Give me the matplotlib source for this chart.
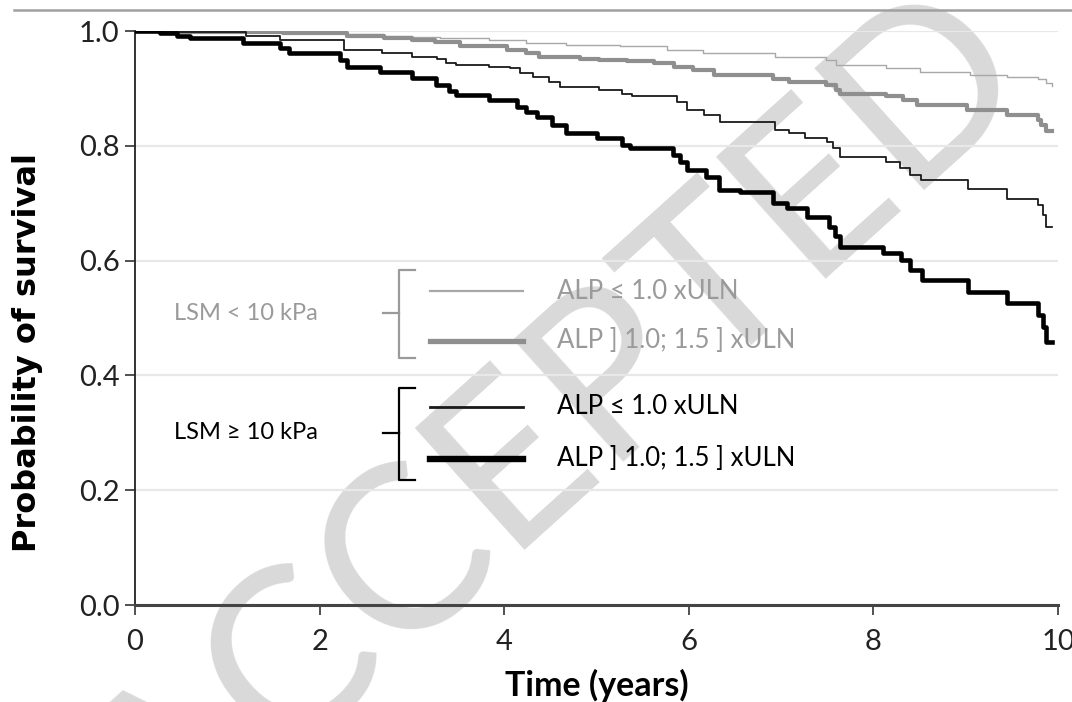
import matplotlib
matplotlib.use('Agg')
import matplotlib.pyplot as plt
from matplotlib.lines import Line2D

# survival curves (time in years, probability of survival)
t_lo_alp1 = [0, 0.8, 1.6, 2.3, 2.7, 3.0, 3.3, 3.84, 4.24, 4.67, 5.25, 5.76, 6.15, 6.93,
             7.49, 7.6, 8.14, 8.5, 9.05, 9.45, 9.78, 9.87, 9.93]
s_lo_alp1 = [1.0, 0.999, 0.997, 0.994, 0.992, 0.990, 0.988, 0.984, 0.979, 0.976, 0.973,
             0.967, 0.961, 0.954, 0.949, 0.941, 0.936, 0.929, 0.924, 0.919, 0.916, 0.909, 0.905]

t_lo_alp15 = [0, 0.5, 1.6, 2.3, 2.7, 3.0, 3.25, 3.52, 4.03, 4.24, 4.38, 4.82, 5.03, 5.33,
              5.62, 5.84, 6.05, 6.27, 6.91, 7.09, 7.49, 7.6, 7.64, 8.14, 8.32, 8.47, 9.01,
              9.45, 9.78, 9.82, 9.87, 9.93]
s_lo_alp15 = [1.0, 0.999, 0.996, 0.991, 0.988, 0.985, 0.981, 0.973, 0.967, 0.961, 0.955,
              0.952, 0.949, 0.947, 0.944, 0.938, 0.932, 0.924, 0.917, 0.912, 0.906, 0.897,
              0.891, 0.886, 0.880, 0.871, 0.862, 0.854, 0.845, 0.836, 0.825, 0.825]

t_hi_alp1 = [0, 0.3, 1.2, 1.57, 2.26, 2.68, 3.0, 3.27, 3.37, 3.48, 3.84, 4.06, 4.17, 4.31,
             4.49, 4.6, 5.03, 5.28, 5.39, 5.87, 5.98, 6.16, 6.34, 6.93, 7.09, 7.26, 7.5,
             7.56, 7.64, 8.14, 8.29, 8.4, 8.52, 9.03, 9.45, 9.78, 9.84, 9.87, 9.93]
s_hi_alp1 = [1.0, 0.998, 0.992, 0.984, 0.967, 0.961, 0.955, 0.952, 0.945, 0.941, 0.938,
             0.935, 0.927, 0.920, 0.912, 0.903, 0.897, 0.891, 0.886, 0.877, 0.863, 0.854,
             0.842, 0.828, 0.822, 0.813, 0.807, 0.796, 0.781, 0.772, 0.761, 0.749, 0.740,
             0.724, 0.708, 0.697, 0.679, 0.659, 0.659]

t_hi_alp15 = [0, 0.27, 0.45, 0.6, 1.17, 1.57, 1.67, 2.22, 2.3, 2.65, 3.0, 3.26, 3.4, 3.48,
              3.84, 4.14, 4.24, 4.35, 4.52, 4.67, 5.0, 5.28, 5.36, 5.83, 5.9, 5.98, 6.19,
              6.33, 6.55, 6.91, 7.06, 7.28, 7.52, 7.58, 7.64, 8.1, 8.3, 8.4, 8.53, 9.03,
              9.45, 9.78, 9.84, 9.87, 9.93]
s_hi_alp15 = [1.0, 0.997, 0.992, 0.987, 0.979, 0.970, 0.961, 0.950, 0.938, 0.929, 0.918,
              0.906, 0.895, 0.889, 0.880, 0.868, 0.859, 0.850, 0.836, 0.822, 0.813, 0.801,
              0.796, 0.784, 0.772, 0.758, 0.746, 0.723, 0.720, 0.700, 0.691, 0.676, 0.659,
              0.642, 0.624, 0.613, 0.601, 0.584, 0.566, 0.546, 0.526, 0.505, 0.485, 0.459,
              0.459]

x_ticks = [0, 2, 4, 6, 8, 10]
y_ticks = [0.0, 0.2, 0.4, 0.6, 0.8, 1.0]
alp_labels = ['ALP ≤ 1.0 xULN', 'ALP ] 1.0; 1.5 ] xULN']
group_labels = ['LSM < 10 kPa', 'LSM ≥ 10 kPa']

GRAY = '#9a9a9a'
LIGHT = '#a8a8a8'
FONT = 'Lato'

fig = plt.figure(figsize=(10.72, 7.02), dpi=100)
ax = fig.add_axes([135 / 1072, 1 - 605 / 702, 923 / 1072, 574 / 702])
ax.patch.set_alpha(0)

# watermark, behind the axes
fig.text(0.522, 0.387, 'ACCEPTED', rotation=42, fontsize=165, color='#d9d9d9',
         ha='center', va='center', family='Lato', zorder=-1)

# page rule at the top
fig.add_artist(Line2D([14 / 1072, 1], [1 - 10 / 702, 1 - 10 / 702],
                      transform=fig.transFigure, color='#a0a0a0', lw=1.8))

ax.step(t_lo_alp1, s_lo_alp1, where='post', color=LIGHT, lw=1.0, zorder=3)
ax.step(t_lo_alp15, s_lo_alp15, where='post', color='#8f8f8f', lw=3.0, zorder=3)
ax.step(t_hi_alp1, s_hi_alp1, where='post', color='#1a1a1a', lw=1.3, zorder=4)
ax.step(t_hi_alp15, s_hi_alp15, where='post', color='black', lw=3.3, zorder=4)

ax.set_xlim(0, 10)
ax.set_ylim(0, 1.0)
ax.set_xticks(x_ticks)
ax.set_yticks(y_ticks)
ax.set_yticklabels(['%.1f' % v for v in y_ticks])
ax.grid(axis='y', color='#e8e8e8', lw=1.6, zorder=0)
ax.set_axisbelow(True)
for side in ['top', 'right']:
    ax.spines[side].set_visible(False)
ax.spines['left'].set_color('#222222')
ax.spines['left'].set_linewidth(1.3)
ax.spines['bottom'].set_color('#444444')
ax.spines['bottom'].set_linewidth(2.2)
ax.tick_params(axis='both', direction='out', length=7, width=1.2, color='#333333',
               labelsize=21)
ax.tick_params(axis='x', pad=10)
ax.tick_params(axis='y', pad=4)
for lab in ax.get_xticklabels() + ax.get_yticklabels():
    lab.set_family(FONT)
    lab.set_color('#222222')

ax.set_xlabel('Time (years)', family=FONT, fontweight='bold', fontsize=24.5)
ax.xaxis.set_label_coords(0.5, -0.112)
ax.set_ylabel('Probability of survival', family='DejaVu Sans', fontweight='bold',
              fontsize=23)
ax.yaxis.set_label_coords(-0.1, 0.44)

# custom grouped legend drawn in pixel coordinates
def px(x, y):
    return x / 1072, 1 - y / 702

def fig_line(xs, ys, **kw):
    pts = [px(x, y) for x, y in zip(xs, ys)]
    fig.add_artist(Line2D([p[0] for p in pts], [p[1] for p in pts],
                          transform=fig.transFigure, **kw))

groups = [
    dict(label=group_labels[0], color=GRAY, top=270, bot=358, mid=313,
         lines=[(291, LIGHT, 1.6), (341, '#8f8f8f', 3.8)]),
    dict(label=group_labels[1], color='black', top=388, bot=480, mid=433,
         lines=[(407, '#1a1a1a', 2.0), (459, 'black', 4.6)]),
]
for g in groups:
    fig_line([415, 399, 399, 415], [g['top'], g['top'], g['bot'], g['bot']],
             color=g['color'], lw=1.6)
    fig_line([383, 399], [g['mid'], g['mid']], color=g['color'], lw=1.6)
    x, y = px(318, g['mid'])
    fig.text(x, y, g['label'], ha='right', va='center', fontsize=17, family=FONT,
             color=g['color'])
    for (ly, lc, lw), txt in zip(g['lines'], alp_labels):
        fig_line([430, 523], [ly, ly], color=lc, lw=lw)
        x, y = px(557, ly)
        fig.text(x, y, txt, ha='left', va='center', fontsize=18.5, family=FONT,
                 color=g['color'])

fig.savefig('out.png', dpi=100)
